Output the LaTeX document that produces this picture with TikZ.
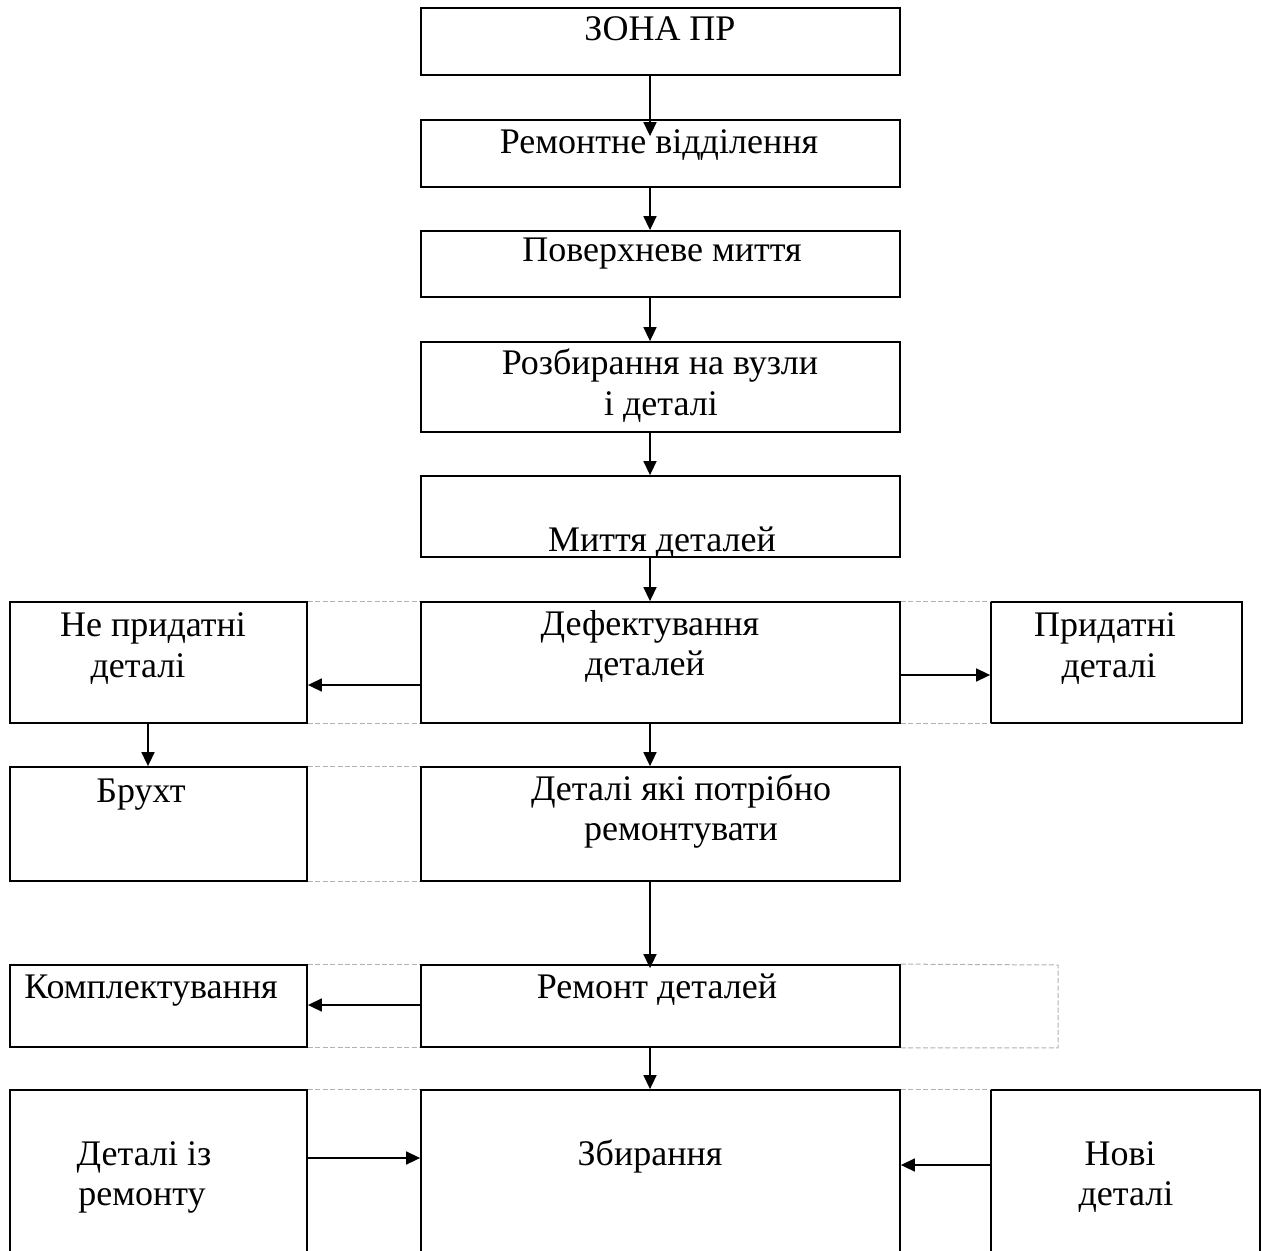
\documentclass[tikz,border=0pt]{standalone}
\usepackage{fontspec}
\setmainfont{Liberation Serif}
\usetikzlibrary{arrows.meta,fit}
\begin{document}
\begin{tikzpicture}[x=0.5pt,y=-0.5pt,
 box/.style={draw,line width=0.9pt,inner sep=0pt,rectangle},
 lbl/.style={inner sep=0pt,anchor=base,font=\fontsize{18}{20}\selectfont},
 arr/.style={-{Triangle[length=7pt,width=6.5pt]},line width=0.8pt},
 dsh/.style={draw=gray!60,line width=0.5pt,dash pattern=on 2.5pt off 1.2pt}]
\clip (0,0) rectangle (1262,1251);
\fill[white] (0,0) rectangle (1262,1251);
% boxes
\node[box,fit={(421,8) (900,75)}] (zona) {};
\node[box,fit={(421,120) (900,187)}] (rem) {};
\node[box,fit={(421,231) (900,297)}] (pov) {};
\node[box,fit={(421,342) (900,432)}] (roz) {};
\node[box,fit={(421,476) (900,557)}] (myt) {};
\node[box,fit={(421,602) (900,723)}] (def) {};
\node[box,fit={(10,602) (307,723)}] (ne) {};
\node[box,fit={(991,602) (1242,723)}] (pryd) {};
\node[box,fit={(10,767) (307,881)}] (bruh) {};
\node[box,fit={(421,767) (900,881)}] (yaki) {};
\node[box,fit={(10,965) (307,1047)}] (kompl) {};
\node[box,fit={(421,965) (900,1047)}] (remd) {};
\node[box,fit={(10,1090) (307,1320)}] (detiz) {};
\node[box,fit={(421,1090) (900,1320)}] (zbyr) {};
\node[box,fit={(991,1090) (1260,1320)}] (novi) {};
\coordinate (ext) at (1058,965);
% labels
\node[lbl] (t1) at (660,41) {ЗОНА ПР};
\node[lbl] (t2) at (659,154) {Ремонтне відділення};
\node[lbl] (t3) at (662,262) {Поверхневе миття};
\node[lbl] (t4a) at (660,374) {Розбирання на вузли};
\node[lbl] (t4b) at (661,415) {і деталі};
\node[lbl] (t5) at (662,551) {Миття деталей};
\node[lbl] (t6a) at (650,635) {Дефектування};
\node[lbl] (t6b) at (645,675) {деталей};
\node[lbl] (t7a) at (153,636) {Не придатні};
\node[lbl] (t7b) at (138,677) {деталі};
\node[lbl] (t8a) at (1105,636) {Придатні};
\node[lbl] (t8b) at (1109,677) {деталі};
\node[lbl] (t9) at (141,802) {Брухт};
\node[lbl] (t10a) at (681,800) {Деталі які потрібно};
\node[lbl] (t10b) at (681,840) {ремонтувати};
\node[lbl] (t11) at (151,998) {Комплектування};
\node[lbl] (t12) at (657,998) {Ремонт деталей};
\node[lbl] (t13) at (650,1165) {Збирання};
\node[lbl] (t14a) at (144,1165) {Деталі із};
\node[lbl] (t14b) at (142,1205) {ремонту};
\node[lbl] (t15a) at (1120,1165) {Нові};
\node[lbl] (t15b) at (1126,1205) {деталі};
% dashed guide lines
\draw[dsh] (ne.north east) -- (def.north west);
\draw[dsh] (ne.south east) -- (def.south west);
\draw[dsh] (def.north east) -- (pryd.north west);
\draw[dsh] (def.south east) -- (pryd.south west);
\draw[dsh] (bruh.north east) -- (yaki.north west);
\draw[dsh] (bruh.south east) -- (yaki.south west);
\draw[dsh] (kompl.north east) -- (remd.north west);
\draw[dsh] (kompl.south east) -- (remd.south west);
\draw[dsh] (remd.north east) -- (ext) -- (ext |- remd.south) -- (remd.south east);
\draw[dsh] (detiz.north east) -- (zbyr.north west);
\draw[dsh] (zbyr.north east) -- (novi.north west);
% arrows
\draw[arr] (zona.south -| 650,0) -- ([yshift=-8.5pt]rem.north -| 650,0);
\draw[arr] (rem.south -| 650,0) -- (pov.north -| 650,0);
\draw[arr] (pov.south -| 650,0) -- (roz.north -| 650,0);
\draw[arr] (roz.south -| 650,0) -- (myt.north -| 650,0);
\draw[arr] (myt.south -| 650,0) -- (def.north -| 650,0);
\draw[arr] (def.west |- 0,685) -- (ne.east |- 0,685);
\draw[arr] (def.east |- 0,675) -- (pryd.west |- 0,675);
\draw[arr] (ne.south -| 148,0) -- (bruh.north -| 148,0);
\draw[arr] (def.south -| 650,0) -- (yaki.north -| 650,0);
\draw[arr] (yaki.south -| 650,0) -- ([yshift=-2pt]remd.north -| 650,0);
\draw[arr] (remd.west |- 0,1005) -- (kompl.east |- 0,1005);
\draw[arr] (remd.south -| 650,0) -- (zbyr.north -| 650,0);
\draw[arr] (detiz.east |- 0,1158) -- (zbyr.west |- 0,1158);
\draw[arr] (novi.west |- 0,1165) -- (zbyr.east |- 0,1165);
\end{tikzpicture}
\end{document}
